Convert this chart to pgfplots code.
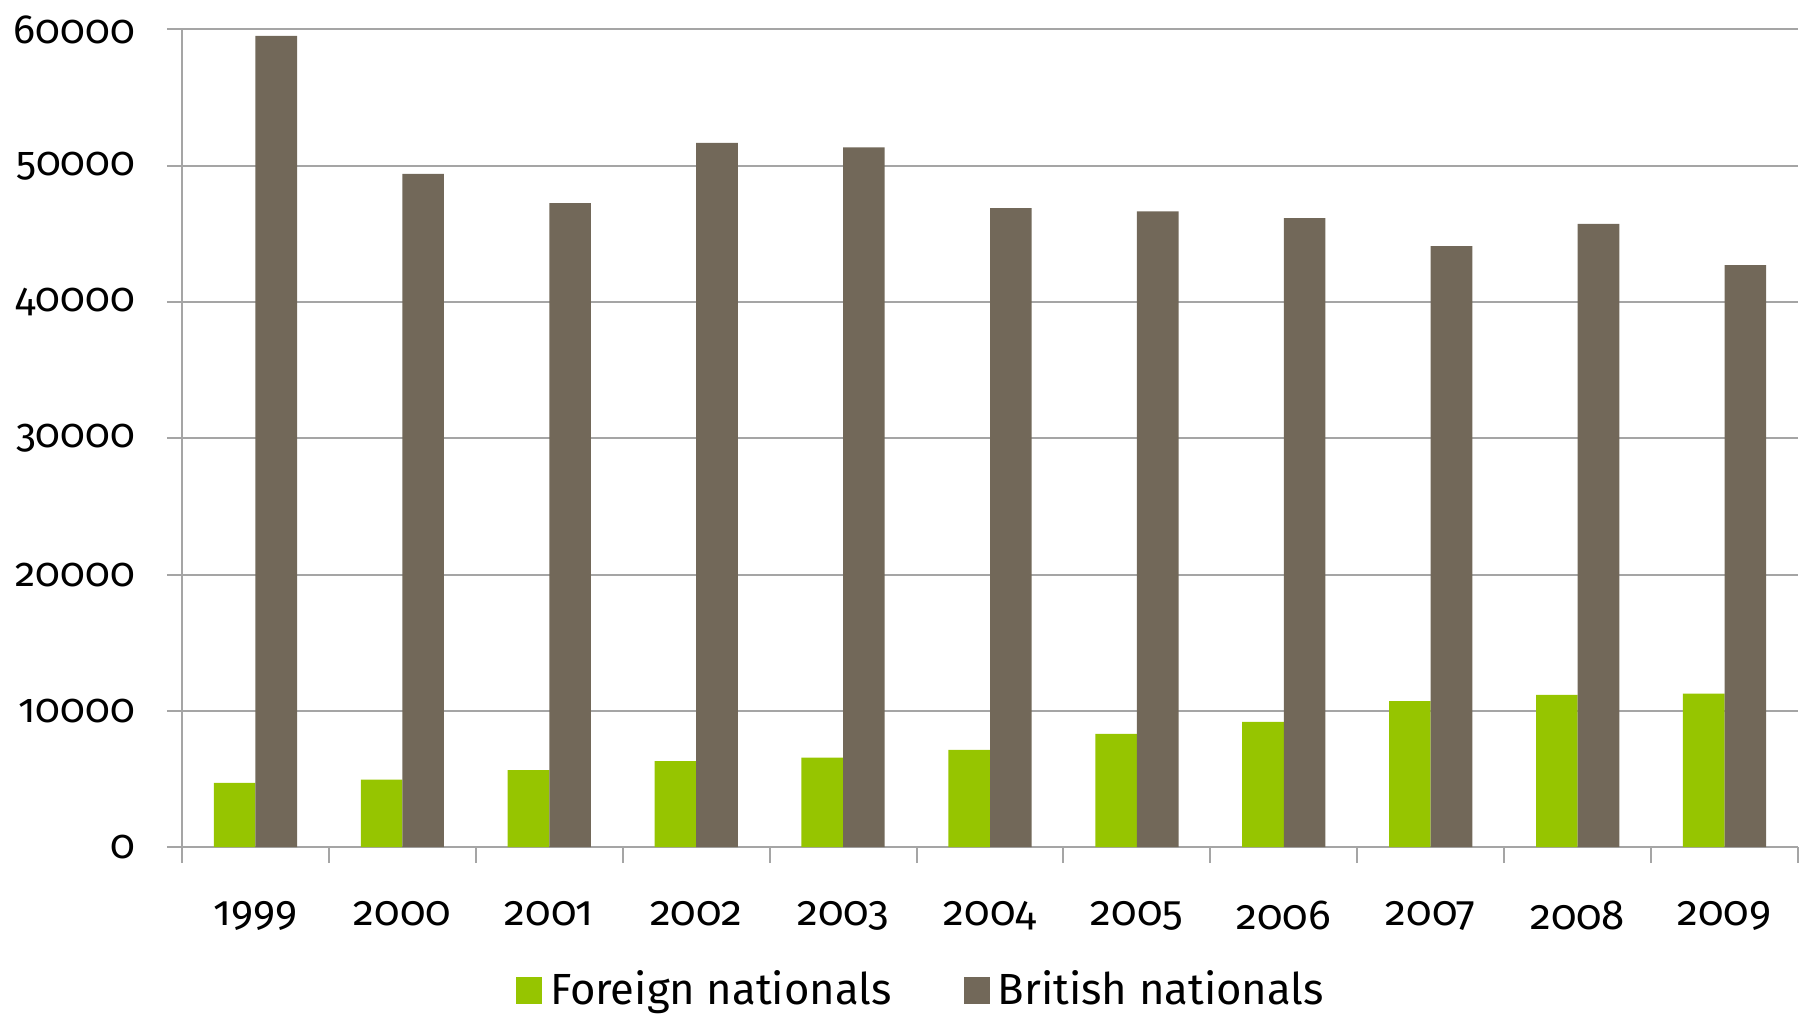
\documentclass[border=0pt]{standalone}
\usepackage{fontspec}
\setmainfont[Numbers=OldStyle]{Fira Sans}
\usepackage{pgfplots}
\pgfplotsset{compat=1.18}
\definecolor{fgreen}{RGB}{150,197,0}
\definecolor{bbrown}{RGB}{114,104,89}
\definecolor{gridg}{RGB}{165,165,165}
\begin{document}
\begin{tikzpicture}
\begin{axis}[
  at={(0,0)}, anchor=south west,
  scale only axis, width=404pt, height=204.45pt,
  xmin=-0.5, xmax=10.5, ymin=0, ymax=60000,
  ybar=0pt, bar width=10.4pt,
  axis x line*=bottom, axis y line*=left,
  axis line style={gridg, line width=0.5pt},
  xtick={0,...,10},
  xticklabels={1999,2000,2001,2002,2003,2004,2005,2006,2007,2008,2009},
  major x tick style={draw=none},
  minor xtick={-0.5,0.5,...,10.5},
  minor x tick style={gridg, line width=0.5pt},
  minor tick length=4pt,
  major tick length=3.75pt,
  tick align=outside,
  ytick={0,10000,...,60000},
  ytick style={gridg, line width=0.5pt},
  ymajorgrids, grid style={gridg, line width=0.5pt},
  scaled y ticks=false,
  /pgf/number format/assume math mode=true,
  y tick label style={/pgf/number format/fixed, /pgf/number format/1000 sep={}, xshift=-4.5pt, font=\fontsize{10.2}{12}\selectfont},
  x tick label style={yshift=-6.2pt, font=\fontsize{10.5}{12}\selectfont},
  legend style={at={(0.459,-0.175)}, anchor=center, draw=none, fill=none,
    legend columns=2, font=\fontsize{10.9}{12}\selectfont,
    /tikz/every even column/.append style={column sep=16pt}},
  legend image code/.code={\fill[#1] (0pt,-3.3pt) rectangle (6.6pt,3.3pt);},
]
\addplot[fill=fgreen, draw=none] coordinates {
  (0,4717) (1,4960) (2,5650) (3,6309) (4,6574) (5,7139)
  (6,8312) (7,9193) (8,10711) (9,11174) (10,11270)};
\addplot[fill=bbrown, draw=none] coordinates {
  (0,59523) (1,49398) (2,47248) (3,51680) (4,51343) (5,46882)
  (6,46640) (7,46148) (8,44094) (9,45730) (10,42700)};
\legend{Foreign nationals, British nationals}
\end{axis}
\pgfresetboundingbox
\path[use as bounding box] (-45.5pt,-41.7pt) rectangle (406.25pt,211.8pt);
\end{tikzpicture}
\end{document}
